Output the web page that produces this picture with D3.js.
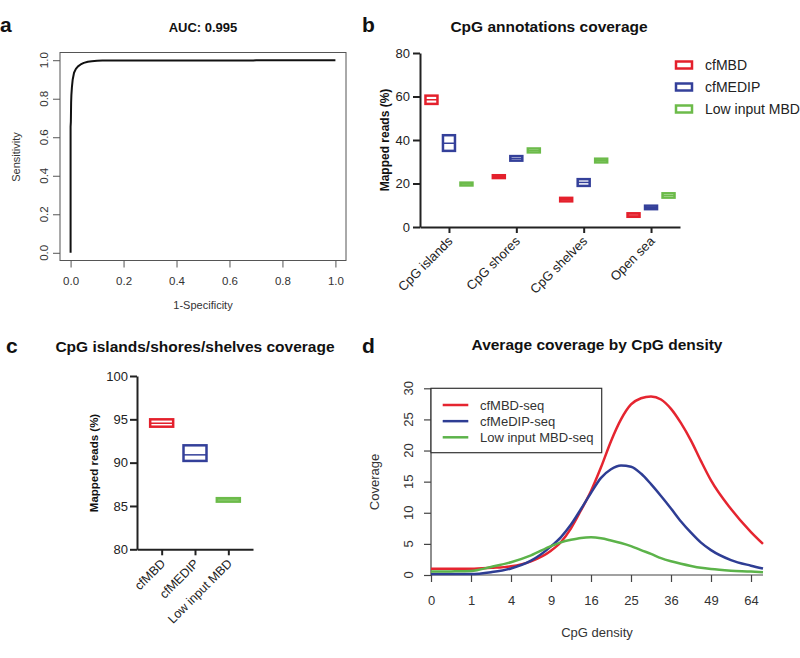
<!DOCTYPE html>
<html><head><meta charset="utf-8">
<script src="https://cdn.jsdelivr.net/npm/d3@7"></script>
<style>body{margin:0;background:#fff}svg{display:block;font-family:"Liberation Sans",Arial,sans-serif}</style>
</head><body><svg id="c" width="800" height="658"></svg>
<script>
// ---------- DATA ----------
// Panel a: ROC curve
const rocFPR = [0, 0, 0.001, 0.002, 0.003, 0.005, 0.008, 0.013, 0.02, 0.028, 0.038, 0.05, 0.065, 0.08, 0.1, 0.12, 0.3, 0.69, 0.7, 1.0];
const rocTPR = [0, 0.655, 0.68, 0.78, 0.82, 0.86, 0.9, 0.935, 0.955, 0.968, 0.978, 0.986, 0.992, 0.995, 0.997, 0.998, 0.998, 0.998, 1.0, 1.0];
const rocTicks = [0, 0.2, 0.4, 0.6, 0.8, 1.0];

// Panel b: CpG annotations coverage (min / mean / max)
const annotCategories = ["CpG islands", "CpG shores", "CpG shelves", "Open sea"];
const methods = ["cfMBD", "cfMEDIP", "Low input MBD"];
const cfMBDLow  = [56.6, 22.5, 11.8, 4.7];
const cfMBDMean = [58.5, 23.1, 12.6, 5.5];
const cfMBDHigh = [60.4, 23.8, 13.4, 6.3];
const cfMEDIPLow  = [35.0, 30.5, 18.9, 8.2];
const cfMEDIPMean = [38.5, 31.5, 20.5, 9.0];
const cfMEDIPHigh = [42.2, 32.6, 22.0, 9.8];
const lowInputLow  = [19.1, 34.3, 29.7, 13.5];
const lowInputMean = [19.8, 35.2, 30.5, 14.5];
const lowInputHigh = [20.4, 36.1, 31.4, 15.5];
const annotTicks = [0, 20, 40, 60, 80];

// Panel c: CpG islands/shores/shelves coverage
const totalLow  = [94.15, 90.2, 85.5];
const totalMean = [94.55, 90.9, 85.7];
const totalHigh = [95.0, 92.0, 85.9];
const totalTicks = [80, 85, 90, 95, 100];

// Panel d: average coverage by CpG density
const densityX = [0, 0.25, 1, 2.25, 4, 6.25, 9, 10.5625, 12.25, 14.0625, 16, 18.0625, 20.25, 22.5625, 25, 27.5625, 30.25, 33.0625, 36, 39.0625, 42.25, 45.5625, 49, 56.25, 64, 68.89];
const cfMBDseq =       [1.0, 1.0, 1.0, 1.15, 1.4, 2.2, 3.9, 5.3, 7.5, 10.4, 13.5, 17.3, 21.5, 25.0, 27.4, 28.4, 28.7, 28.2, 26.7, 24.4, 21.6, 18.3, 15.2, 10.6, 6.9, 5.0];
const cfMeDIPseq =     [0.15, 0.15, 0.15, 0.45, 1.05, 2.3, 4.6, 6.1, 8.1, 10.6, 13.2, 15.6, 17.0, 17.6, 17.4, 16.3, 14.6, 12.7, 10.7, 8.6, 6.8, 5.2, 4.0, 2.4, 1.5, 1.05];
const lowInputMBDseq = [0.55, 0.58, 0.65, 1.3, 2.05, 3.15, 4.65, 5.25, 5.65, 5.95, 6.05, 5.9, 5.55, 5.15, 4.65, 4.0, 3.4, 2.7, 2.2, 1.8, 1.45, 1.15, 0.95, 0.7, 0.55, 0.43];
const dSeriesNames = ["cfMBD-seq", "cfMeDIP-seq", "Low input MBD-seq"];
const densityTicks = [0, 1, 4, 9, 16, 25, 36, 49, 64];
const coverageTicks = [0, 5, 10, 15, 20, 25, 30];

// ---------- STYLE ----------
const bColors = ["#e4202c", "#34409a", "#6cbb4a"];
const dColors = ["#e52530", "#2e3d94", "#5cb34a"];
const rText = "#333";
const gText = "#222";

const svg = d3.select("#c");
svg.append("rect").attr("width", 800).attr("height", 658).attr("fill", "#fff");

function panelLabel(t, x, y) {
  svg.append("text").attr("x", x).attr("y", y).text(t)
    .attr("font-size", 21).attr("font-weight", "bold").attr("fill", "#111");
}

// ---------- PANEL A ----------
{
  const g = svg.append("g");
  const x = d3.scaleLinear().domain([-0.04, 1.04]).range([60, 346]);
  const y = d3.scaleLinear().domain([-0.04, 1.04]).range([260.5, 52.5]);
  panelLabel("a", 0, 32);
  g.append("text").attr("x", 203).attr("y", 31.5).attr("text-anchor", "middle")
    .attr("font-size", 13).attr("font-weight", "bold").attr("fill", "#111").text("AUC: 0.995");
  g.append("rect").attr("x", 60).attr("y", 52.5).attr("width", 286).attr("height", 208)
    .attr("fill", "none").attr("stroke", "#555").attr("stroke-width", 1);
  const xa = g.append("g").attr("transform", "translate(0,260.5)")
    .call(d3.axisBottom(x).tickValues(rocTicks).tickFormat(d3.format(".1f")).tickSize(7).tickSizeOuter(0));
  xa.select(".domain").remove();
  xa.selectAll("line").attr("stroke", "#555");
  xa.selectAll("text").attr("font-size", 11.5).attr("fill", rText).attr("y", 24.5).attr("dy", 0)
    .attr("font-family", "Liberation Sans, Arial, sans-serif");
  const ya = g.append("g").attr("transform", "translate(60,0)")
    .call(d3.axisLeft(y).tickValues(rocTicks).tickFormat(d3.format(".1f")).tickSize(7).tickSizeOuter(0));
  ya.select(".domain").remove();
  ya.selectAll("line").attr("stroke", "#555");
  ya.selectAll("text").remove();
  g.selectAll(".ylab").data(rocTicks).join("text")
    .attr("transform", d => `translate(48,${y(d)}) rotate(-90)`)
    .attr("text-anchor", "middle").attr("font-size", 11.5).attr("fill", rText)
    .text(d3.format(".1f"));
  g.append("text").attr("x", 203).attr("y", 309).attr("text-anchor", "middle")
    .attr("font-size", 11).attr("fill", rText).text("1-Specificity");
  g.append("text").attr("transform", "translate(19.5,157) rotate(-90)").attr("text-anchor", "middle")
    .attr("font-size", 11).attr("fill", rText).text("Sensitivity");
  const pts = rocFPR.map((v, i) => [v, rocTPR[i]]);
  g.append("path").datum(pts)
    .attr("d", d3.line().x(d => x(d[0])).y(d => y(d[1])))
    .attr("fill", "none").attr("stroke", "#111").attr("stroke-width", 2).attr("stroke-linejoin", "round");
}

// ---------- PANEL B ----------
{
  const g = svg.append("g");
  panelLabel("b", 362, 32);
  g.append("text").attr("x", 549).attr("y", 32).attr("text-anchor", "middle")
    .attr("font-size", 15.5).attr("font-weight", "bold").attr("fill", "#111").text("CpG annotations coverage");
  const x = d3.scalePoint().domain(annotCategories).range([420, 680]).padding(0.43);
  const off = d3.scalePoint().domain(methods).range([-17.5, 17.5]);
  const y = d3.scaleLinear().domain([0, 80]).range([227, 53]);

  const ya = g.append("g").attr("transform", "translate(420,0)")
    .call(d3.axisLeft(y).tickValues(annotTicks).tickSize(7).tickSizeOuter(0));
  ya.selectAll("path,line").attr("stroke", "#222").attr("stroke-width", 2);
  ya.selectAll("text").attr("font-size", 13).attr("fill", gText).attr("x", -10)
    .attr("font-family", "Liberation Sans, Arial, sans-serif");
  const xa = g.append("g").attr("transform", "translate(0,227)")
    .call(d3.axisBottom(x).tickSize(6).tickSizeOuter(0));
  xa.selectAll("path,line").attr("stroke", "#222").attr("stroke-width", 2);
  xa.selectAll("text").attr("font-size", 13).attr("fill", gText)
    .attr("x", 0).attr("y", 0).attr("dy", 0).attr("text-anchor", "end")
    .attr("transform", "translate(4,15) rotate(-45)")
    .attr("font-family", "Liberation Sans, Arial, sans-serif");

  g.append("text").attr("transform", "translate(389,140) rotate(-90)").attr("text-anchor", "middle")
    .attr("font-size", 12).attr("font-weight", "bold").attr("fill", "#111").text("Mapped reads (%)");

  const lows = [cfMBDLow, cfMEDIPLow, lowInputLow];
  const means = [cfMBDMean, cfMEDIPMean, lowInputMean];
  const highs = [cfMBDHigh, cfMEDIPHigh, lowInputHigh];
  const w = 12;
  methods.forEach((m, si) => {
    annotCategories.forEach((c, ci) => {
      const cx = x(c) + off(m);
      const y0 = y(highs[si][ci]), y1 = y(lows[si][ci]);
      g.append("rect").attr("x", cx - w / 2).attr("y", y0).attr("width", w).attr("height", Math.max(0.5, y1 - y0))
        .attr("fill", "#fff").attr("stroke", bColors[si]).attr("stroke-width", 2.5);
      g.append("line").attr("x1", cx - w / 2).attr("x2", cx + w / 2)
        .attr("y1", y(means[si][ci])).attr("y2", y(means[si][ci]))
        .attr("stroke", bColors[si]).attr("stroke-width", 1.5);
    });
  });
  // legend
  const ly = d3.scalePoint().domain(methods).range([65, 109]);
  methods.forEach((m, si) => {
    g.append("rect").attr("x", 676).attr("y", ly(m) - 3.5).attr("width", 16).attr("height", 7)
      .attr("fill", "#fff").attr("stroke", bColors[si]).attr("stroke-width", 2.5);
    g.append("text").attr("x", 705).attr("y", ly(m)).attr("dy", "0.36em")
      .attr("font-size", 14).attr("fill", gText).text(m);
  });
}

// ---------- PANEL C ----------
{
  const g = svg.append("g");
  panelLabel("c", 6, 353);
  g.append("text").attr("x", 195).attr("y", 352).attr("text-anchor", "middle")
    .attr("font-size", 15.5).attr("font-weight", "bold").attr("fill", "#111").text("CpG islands/shores/shelves coverage");
  const x = d3.scalePoint().domain(methods).range([137, 253]).padding(0.74);
  const y = d3.scaleLinear().domain([80, 100]).range([549.3, 376]);
  const ya = g.append("g").attr("transform", "translate(137,0)")
    .call(d3.axisLeft(y).tickValues(totalTicks).tickSize(7).tickSizeOuter(0));
  ya.selectAll("path,line").attr("stroke", "#222").attr("stroke-width", 2);
  ya.selectAll("text").attr("font-size", 13).attr("fill", gText).attr("x", -9)
    .attr("font-family", "Liberation Sans, Arial, sans-serif");
  const xa = g.append("g").attr("transform", "translate(0,549.3)")
    .call(d3.axisBottom(x).tickSize(6).tickSizeOuter(0));
  xa.selectAll("path,line").attr("stroke", "#222").attr("stroke-width", 2);
  xa.selectAll("text").attr("font-size", 12.5).attr("fill", gText)
    .attr("x", 0).attr("y", 0).attr("dy", 0).attr("text-anchor", "end")
    .attr("transform", "translate(4,15) rotate(-45)")
    .attr("font-family", "Liberation Sans, Arial, sans-serif");
  g.append("text").attr("transform", "translate(98,463) rotate(-90)").attr("text-anchor", "middle")
    .attr("font-size", 11.5).attr("font-weight", "bold").attr("fill", "#111").text("Mapped reads (%)");
  const w = 23;
  methods.forEach((m, si) => {
    const cx = x(m);
    const y0 = y(totalHigh[si]), y1 = y(totalLow[si]);
    g.append("rect").attr("x", cx - w / 2).attr("y", y0).attr("width", w).attr("height", y1 - y0)
      .attr("fill", "#fff").attr("stroke", bColors[si]).attr("stroke-width", 2.5);
    g.append("line").attr("x1", cx - w / 2).attr("x2", cx + w / 2)
      .attr("y1", y(totalMean[si])).attr("y2", y(totalMean[si]))
      .attr("stroke", bColors[si]).attr("stroke-width", 1.5);
  });
}

// ---------- PANEL D ----------
{
  const g = svg.append("g");
  panelLabel("d", 362, 353);
  g.append("text").attr("x", 597).attr("y", 350).attr("text-anchor", "middle")
    .attr("font-size", 15.5).attr("font-weight", "bold").attr("fill", "#111").text("Average coverage by CpG density");
  const x = d3.scaleSqrt().domain([0, 68.89]).range([431, 763]);
  const y = d3.scaleLinear().domain([0, 30]).range([575, 388.3]);
  // L-shaped frame
  g.append("path").attr("d", `M431,388.3V575H763`).attr("fill", "none").attr("stroke", "#444").attr("stroke-width", 1.2);
  const xa = g.append("g").attr("transform", "translate(0,575)")
    .call(d3.axisBottom(x).tickValues(densityTicks).tickSize(7).tickSizeOuter(0));
  xa.select(".domain").remove();
  xa.selectAll("line").attr("stroke", "#444").attr("stroke-width", 1.2);
  xa.selectAll("text").attr("font-size", 13).attr("fill", rText).attr("y", 30).attr("dy", 0)
    .attr("font-family", "Liberation Sans, Arial, sans-serif");
  const ya = g.append("g").attr("transform", "translate(431,0)")
    .call(d3.axisLeft(y).tickValues(coverageTicks).tickSize(7).tickSizeOuter(0));
  ya.select(".domain").remove();
  ya.selectAll("line").attr("stroke", "#444").attr("stroke-width", 1.2);
  ya.selectAll("text").remove();
  g.selectAll(".ylab").data(coverageTicks).join("text")
    .attr("transform", d => `translate(413,${y(d)}) rotate(-90)`)
    .attr("text-anchor", "middle").attr("font-size", 13).attr("fill", rText).text(d => d);
  g.append("text").attr("x", 597).attr("y", 637).attr("text-anchor", "middle")
    .attr("font-size", 13).attr("fill", rText).text("CpG density");
  g.append("text").attr("transform", "translate(379,482) rotate(-90)").attr("text-anchor", "middle")
    .attr("font-size", 13).attr("fill", rText).text("Coverage");

  const series = [cfMBDseq, cfMeDIPseq, lowInputMBDseq];
  const line = d3.line().x(d => x(d[0])).y(d => y(d[1])).curve(d3.curveMonotoneX);
  series.forEach((s, si) => {
    g.append("path").datum(densityX.map((v, i) => [v, s[i]]))
      .attr("d", line).attr("fill", "none").attr("stroke", dColors[si]).attr("stroke-width", 2.5);
  });
  // legend
  g.append("rect").attr("x", 431).attr("y", 388.3).attr("width", 170.7).attr("height", 64.4)
    .attr("fill", "#fff").attr("stroke", "#333").attr("stroke-width", 1.2);
  const ly = d3.scalePoint().domain(dSeriesNames).range([405, 437.3]);
  dSeriesNames.forEach((n, si) => {
    g.append("line").attr("x1", 442.7).attr("x2", 468.3).attr("y1", ly(n)).attr("y2", ly(n))
      .attr("stroke", dColors[si]).attr("stroke-width", 2.5);
    g.append("text").attr("x", 480).attr("y", ly(n) + 4.5).attr("font-size", 13).attr("fill", rText).text(n);
  });
}
</script></body></html>
